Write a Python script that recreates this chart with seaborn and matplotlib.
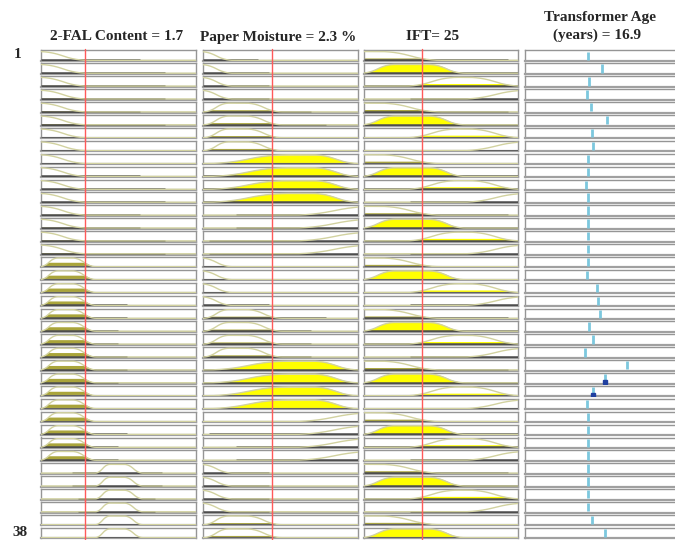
import numpy as np
import matplotlib
matplotlib.use("Agg")
import matplotlib.pyplot as plt
import seaborn as sns

# ---------------- data ----------------
input_titles = ["2-FAL Content = 1.7", "Paper Moisture = 2.3 %", "IFT= 25"]
output_title = ["Transformer Age", "(years) = 16.9"]
input_values = [1.7, 2.3, 25.0]
input_ranges = [(0.0, 6.0), (0.0, 5.2), (0.0, 66.0)]
output_range = (0.0, 40.0)
row_labels = ["1", "38"]

# membership functions (MATLAB style: zmf / pimf / smf parameters)
fal_mfs = {"L": ("z", -0.1, 1.8),
           "M": ("pi", -0.05, 0.66, 1.20, 2.13),
           "H": ("pi", 2.09, 2.67, 3.21, 3.95)}
moist_mfs = {"L": ("z", -0.1, 1.0),
             "M": ("pi", 0.0, 0.87, 1.44, 2.65),
             "H": ("pi", 0.13, 2.89, 3.66, 5.25),
             "V": ("s", 3.02, 5.77)}
ift_mfs = {"L": ("z", 6.9, 33.0),
           "M": ("pi", -1.5, 13.3, 27.4, 43.3),
           "H": ("pi", 17.6, 40.3, 44.6, 67.7),
           "V": ("s", 42.0, 70.3)}

# antecedent MF of each rule (rows 1..38)
fal_rules = "LLLLLLLLLLLLLLLLMMMMMMMMMMMMMMMMHHHHHH"
moist_rules = "LLLLMMMMHHHHVVVVLLLLMMMMHHHHVVVVLLLLMM"
ift_rules = "LMHVLMHVLMHVLMHVLMHVLMHVLMHVLMHVLMHVLM"

# extent of the dark base segment drawn in each input panel (data units)
fal_base_start = [0, 0, 0, 0, 0, 0, 0, 0, 0, 0, 0, 0, 0, 0, 0, 0,
                  0, 0, 0, 0, 0, 0, 0, 0, 0, 0, 0, 0, 0, 0, 0, 0,
                  1.20, 1.20, 1.43, 1.43, 1.20, 1.20]
fal_base_end = [3.83, 4.8, 4.8, 4.8, 3.83, 4.8, 4.8, 4.8, 4.8, 3.83, 4.8, 4.8, 3.83, 3.83, 4.8, 4.8,
                3.33, 2.98, 2.98, 3.33, 3.33, 2.98, 2.98, 3.33, 3.33, 2.98, 2.98, 3.33, 3.33, 3.33, 2.98, 2.98,
                4.68, 4.68, 4.41, 4.41, 4.68, 4.68]
moist_base_start = [0, 0, 0, 0, 0, 0, 0, 0, 0, 0, 0, 0, 1.11, 1.11, 0.2, 0.2,
                    0, 0, 0, 0, 0, 0, 0, 0, 0, 0, 0, 0, 0.2, 0.2, 1.11, 1.11,
                    0, 0, 0, 0, 0, 0]
moist_base_end = [1.85, 2.21, 2.21, 2.21, 3.62, 4.13, 4.13, 4.13, 5.2, 5.2, 5.2, 5.2, 5.2, 5.2, 5.2, 5.2,
                  2.21, 2.21, 2.21, 2.21, 4.13, 3.62, 3.62, 3.62, 5.2, 5.2, 5.2, 5.2, 5.2, 5.2, 5.2, 5.2,
                  2.21, 2.21, 2.21, 2.21, 4.13, 3.62]
ift_base = {"L": (0.0, 61.7), "M": (0.0, 66.0), "H": (0.0, 66.0), "V": (19.7, 66.0)}

# Sugeno consequent of each rule (years)
rule_outputs = [16.3, 19.9, 16.5, 16.0, 17.0, 21.2, 17.3, 17.5, 16.3, 16.3,
                15.7, 16.3, 16.3, 16.3, 16.3, 16.3, 16.3, 16.0, 18.6, 18.8,
                19.4, 16.5, 17.5, 15.5, 26.3, 20.6, 17.5, 16.0, 16.3, 16.3,
                16.3, 16.3, 16.3, 16.3, 16.3, 16.3, 17.3, 20.6]
dark_dot_rows = [26, 27]

# ---------------- helpers ----------------
def smf(x, a, b):
    y = np.zeros_like(x)
    m = (a + b) / 2.0
    i1 = (x > a) & (x <= m)
    i2 = (x > m) & (x < b)
    y[i1] = 2 * ((x[i1] - a) / (b - a)) ** 2
    y[i2] = 1 - 2 * ((x[i2] - b) / (b - a)) ** 2
    y[x >= b] = 1.0
    return y


def mf_eval(x, p):
    kind = p[0]
    if kind == "z":
        return 1 - smf(x, p[1], p[2])
    if kind == "s":
        return smf(x, p[1], p[2])
    return smf(x, p[1], p[2]) * (1 - smf(x, p[3], p[4]))


# ---------------- style ----------------
sns.set_style("white")
plt.rcParams["font.family"] = ["Liberation Serif", "DejaVu Serif"]

W, H = 675, 540
fig = plt.figure(figsize=(6.75, 5.4), dpi=100)
fig.patch.set_facecolor("white")

col_left = [41, 203, 364, 525]
col_width = [155, 155, 154, 155]
row_top0 = 50.5
pitch = 12.9
box_h = 10.5

OLIVE = "#aaa53a"
YELLOW = "#ffff00"
fill_colors = [{"L": OLIVE, "M": OLIVE, "H": YELLOW},
               {"L": OLIVE, "M": OLIVE, "H": YELLOW, "V": YELLOW},
               {"L": OLIVE, "M": YELLOW, "H": YELLOW, "V": YELLOW}]
CURVE = "#d2d2a0"
BASE = "#4d4d4d"
SPINE = "#959595"
RED = "#ff5a5a"
TICK = "#7cc8de"

mf_sets = [fal_mfs, moist_mfs, ift_mfs]
rule_sets = [fal_rules, moist_rules, ift_rules]
n_rows = len(rule_outputs)


def make_ax(col, row):
    left = col_left[col] / W
    bottom = 1 - (row_top0 + row * pitch + box_h) / H
    ax = fig.add_axes([left, bottom, col_width[col] / W, box_h / H])
    ax.set_xticks([])
    ax.set_yticks([])
    for s in ax.spines.values():
        s.set_color(SPINE)
        s.set_linewidth(1.0)
    ax.spines["bottom"].set_linewidth(1.6)
    ax.spines["bottom"].set_color("#a0a0a0")
    ax.set_ylim(-0.08, 1.12)
    return ax


for r in range(n_rows):
    for c in range(3):
        ax = make_ax(c, r)
        lo, hi = input_ranges[c]
        ax.set_xlim(lo, hi)
        xs = np.linspace(lo, hi, 301)
        key = rule_sets[c][r]
        p = mf_sets[c][key]
        ys = mf_eval(xs, p)
        deg = float(mf_eval(np.array([input_values[c]]), p)[0])
        if deg > 1e-4:
            fy = np.minimum(ys, deg)
            ax.fill_between(xs, 0, fy, where=ys > 1e-4, color=fill_colors[c][key],
                            edgecolor=fill_colors[c][key], linewidth=1.0, zorder=2)
        if c == 0:
            b0, b1 = fal_base_start[r], fal_base_end[r]
        elif c == 1:
            b0, b1 = moist_base_start[r], moist_base_end[r]
        else:
            b0, b1 = ift_base[key]
        ax.hlines(0, b0, b1, color=BASE, linewidth=1.8, zorder=3)
        sns.lineplot(x=xs, y=ys, ax=ax, color=CURVE, linewidth=1.0, legend=False,
                     sort=False, estimator=None, zorder=4)
        ax.set_xlabel("")
        ax.set_ylabel("")
        ax.set_ylim(-0.08, 1.12)
        ax.set_xlim(lo, hi)
        ax.axvline(input_values[c], ymin=-0.15, ymax=1.15, color=RED, linewidth=1.0,
                   clip_on=False, zorder=5)

    # output column
    ax = make_ax(3, r)
    ax.set_xlim(*output_range)
    ax.vlines(rule_outputs[r], 0.05, 1.0, color=TICK, linewidth=2.0, zorder=3)
    if (r + 1) in dark_dot_rows:
        ax.plot([rule_outputs[r]], [0.08], marker="s", ms=2.5, color="#2040a0", zorder=4)

# titles
title_x = [117, 278, 433]
for t, x in zip(input_titles, title_x):
    fig.text(x / W, 1 - 37 / H, t, ha="center", va="center",
             fontsize=11, fontweight="bold")
fig.text(600 / W, 1 - 17 / H, output_title[0], ha="center", va="center",
         fontsize=11, fontweight="bold")
fig.text(597 / W, 1 - 35 / H, output_title[1], ha="center", va="center",
         fontsize=11, fontweight="bold")

fig.text(18 / W, 1 - 55 / H, row_labels[0], ha="center", va="center",
         fontsize=11, fontweight="bold")
fig.text(20 / W, 1 - 532 / H, row_labels[1], ha="center", va="center",
         fontsize=11, fontweight="bold")

fig.savefig("out.png", dpi=100)
